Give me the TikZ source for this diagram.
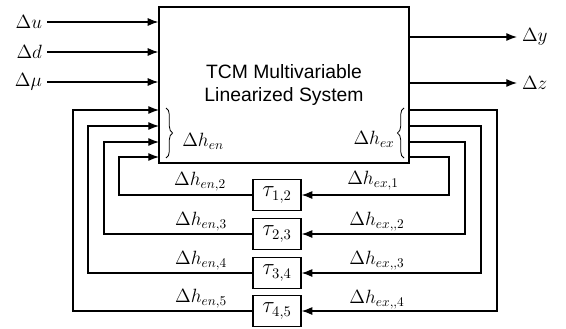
\documentclass[tikz,border=0pt]{standalone}
\usepackage{amsmath}
\usepackage{fontspec}
\newfontfamily\sysfont{Liberation Sans}
\usetikzlibrary{arrows.meta,decorations.pathreplacing}

\begin{document}
\begin{tikzpicture}[x=0.75pt, y=-0.75pt, >={Latex[length=8pt,width=6pt]},
    line width=0.9pt, font=\fontsize{14}{17}\selectfont,
    delay/.style={draw, minimum width=36pt, minimum height=23pt, inner sep=0pt,
                  font=\fontsize{16}{18}\selectfont},
    sigbrace/.style={decorate, decoration={brace, amplitude=5pt}, line width=0.6pt}]
            \useasboundingbox (0,0) rectangle (566,328);

            % plant
            \node[draw, minimum width=187.5pt, minimum height=117pt, align=center,
                  font=\sysfont\fontsize{14.5}{17}\selectfont] (sys) at (284,85)
                  {TCM Multivariable\\Linearized System};
            \coordinate (en5) at (159,110);
            \coordinate (en4) at (159,126);
            \coordinate (en3) at (159,142);
            \coordinate (en2) at (159,157);
            \coordinate (ex4) at (409,110);
            \coordinate (ex3) at (409,126);
            \coordinate (ex2) at (409,142);
            \coordinate (ex1) at (409,157);

            % inputs and outputs
            \node[anchor=east] (du) at (47,22) {$\Delta u$};
            \node[anchor=east] (dd) at (47,52) {$\Delta d$};
            \node[anchor=east] (dmu) at (47,82) {$\Delta \mu$};
            \draw[->] (du) -- (du -| sys.west);
            \draw[->] (dd) -- (dd -| sys.west);
            \draw[->] (dmu) -- (dmu -| sys.west);

            \node[anchor=west] (dy) at (517,37) {$\Delta y$};
            \node[anchor=west] (dz) at (517,83) {$\Delta z$};
            \draw[->] (sys.east |- dy) -- (dy);
            \draw[->] (sys.east |- dz) -- (dz);

            % braces
            \draw[sigbrace] (166,108) -- (166,158);
            \draw[sigbrace] (404,158) -- (404,108);
            \node (hen) at (203,141) {$\Delta h_{en}$};
            \node (hex) at (374,139) {$\Delta h_{ex}$};

            % delays
            \node[delay] (t12) at (277,195) {$\tau_{1,2}$};
            \node[delay] (t23) at (277,234) {$\tau_{2,3}$};
            \node[delay] (t34) at (277,273) {$\tau_{3,4}$};
            \node[delay] (t45) at (277,311) {$\tau_{4,5}$};

            \draw[->] (ex1) -| (449,195) -- (t12);
            \draw[->] (ex2) -| (465,234) -- (t23);
            \draw[->] (ex3) -| (481,273) -- (t34);
            \draw[->] (ex4) -| (497,311) -- (t45);

            \draw[->] (t12) -| (119,157) -- (en2);
            \draw[->] (t23) -| (104,142) -- (en3);
            \draw[->] (t34) -| (88,126) -- (en4);
            \draw[->] (t45) -| (73,110) -- (en5);

            \node (hen2) at (200,182) {$\Delta h_{en,2}$};
            \node (hen3) at (201,222) {$\Delta h_{en,3}$};
            \node (hen4) at (201,261) {$\Delta h_{en,4}$};
            \node (hen5) at (201,299) {$\Delta h_{en,5}$};
            \node (hex1) at (373,181) {$\Delta h_{ex,1}$};
            \node (hex2) at (377,222) {$\Delta h_{ex,,2}$};
            \node (hex3) at (377,261) {$\Delta h_{ex,,3}$};
            \node (hex4) at (377,300) {$\Delta h_{ex,,4}$};
        \end{tikzpicture}
\end{document}
